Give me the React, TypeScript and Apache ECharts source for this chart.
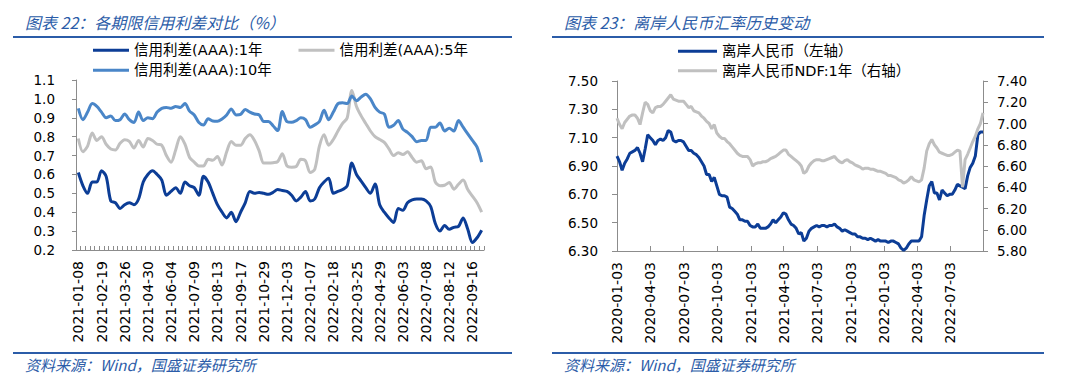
import React, { useEffect, useRef } from "react";
import * as echarts from "echarts";

// ---------- Left chart data (weekly, AAA credit spreads, %) ----------
const spreadStart = "2021-01-08";
const spreadEnd = "2022-09-30";
const spreadSkipped = ["2021-02-12", "2021-10-01", "2022-02-04"];

const spread1Y = [
  0.61, 0.54, 0.5, 0.56, 0.56, 0.62, 0.59, 0.46, 0.45, 0.42,
  0.44, 0.45, 0.44, 0.47, 0.56, 0.6, 0.62, 0.6, 0.57, 0.49,
  0.51, 0.53, 0.5, 0.56, 0.54, 0.53, 0.49, 0.59, 0.56, 0.5,
  0.44, 0.4, 0.37, 0.4, 0.35, 0.4, 0.45, 0.51, 0.5, 0.505,
  0.5, 0.495, 0.505, 0.52, 0.515, 0.51, 0.49, 0.46, 0.48, 0.51,
  0.46, 0.47, 0.53, 0.56, 0.58, 0.5, 0.51, 0.52, 0.54, 0.66,
  0.6, 0.565, 0.53, 0.5, 0.55, 0.44, 0.4, 0.37, 0.345, 0.42,
  0.41, 0.45, 0.465, 0.47, 0.47, 0.46, 0.43, 0.34, 0.3, 0.33,
  0.31, 0.32, 0.325, 0.37, 0.31, 0.24, 0.265, 0.305,
];

const spread5Y = [
  0.79, 0.72, 0.75, 0.82, 0.78, 0.8, 0.76, 0.735, 0.73, 0.765,
  0.784, 0.775, 0.74, 0.78, 0.745, 0.79, 0.78, 0.76, 0.755, 0.7,
  0.665, 0.73, 0.8, 0.76, 0.69, 0.665, 0.645, 0.645, 0.68, 0.675,
  0.695, 0.65, 0.72, 0.775, 0.755, 0.755, 0.79, 0.81, 0.78, 0.725,
  0.66, 0.66, 0.662, 0.668, 0.71, 0.645, 0.638, 0.642, 0.68, 0.672,
  0.61, 0.628, 0.75, 0.81, 0.755, 0.785, 0.83, 0.87, 0.9, 1.045,
  0.96, 0.91, 0.87, 0.83, 0.8, 0.785, 0.77, 0.735, 0.7, 0.715,
  0.705, 0.72, 0.69, 0.665, 0.672, 0.63, 0.64, 0.56, 0.54, 0.543,
  0.557, 0.522, 0.548, 0.57, 0.52, 0.485, 0.45, 0.4,
];

const spread10Y = [
  0.95, 0.89, 0.93, 0.975, 0.96, 0.93, 0.9, 0.91, 0.885, 0.89,
  0.92, 0.89, 0.875, 0.93, 0.885, 0.9, 0.895, 0.93, 0.95, 0.955,
  0.95, 0.96, 0.955, 0.975, 0.935, 0.915, 0.875, 0.862, 0.895, 0.883,
  0.882, 0.894, 0.915, 0.947, 0.915, 0.918, 0.944, 0.93, 0.92, 0.915,
  0.88, 0.88, 0.858, 0.832, 0.933, 0.88, 0.876, 0.885, 0.9, 0.89,
  0.85, 0.862, 0.88, 0.94, 0.89, 0.93, 0.975, 0.98, 0.975, 1.015,
  0.99, 1.01, 1.025, 1.0, 0.955, 0.93, 0.92, 0.85, 0.86, 0.885,
  0.84, 0.823, 0.8, 0.773, 0.78, 0.78, 0.85, 0.85, 0.873, 0.83,
  0.845, 0.83, 0.885, 0.85, 0.815, 0.78, 0.745, 0.665,
];

// ---------- Right chart data (weekly, Fridays) ----------
const fxStart = "2020-01-03";
const fxEnd = "2022-09-30";

const cnh = [
  6.97, 6.93, 6.87, 6.92, 6.95, 6.99, 7.0, 7.01, 7.03, 6.99,
  6.93, 7.02, 7.12, 7.1, 7.08, 7.05, 7.08, 7.09, 7.08, 7.1,
  7.15, 7.14, 7.08, 7.07, 7.08, 7.08, 7.07, 7.04, 7.01, 7.01,
  6.99, 6.98, 6.96, 6.93, 6.9, 6.84, 6.84, 6.79, 6.82, 6.76,
  6.7, 6.69, 6.69, 6.68, 6.61, 6.6, 6.58, 6.56, 6.52, 6.52,
  6.51, 6.51, 6.48, 6.47, 6.47, 6.49, 6.46, 6.46, 6.46, 6.47,
  6.49, 6.52, 6.5, 6.52, 6.54, 6.57, 6.56, 6.52, 6.49, 6.48,
  6.46, 6.42, 6.43, 6.37, 6.39, 6.44, 6.46, 6.47, 6.48, 6.47,
  6.48, 6.48, 6.47, 6.48, 6.48, 6.49, 6.47, 6.46, 6.44, 6.45,
  6.44, 6.43, 6.42, 6.42, 6.4, 6.4, 6.39, 6.39, 6.38, 6.39,
  6.38, 6.37, 6.38, 6.37, 6.37, 6.37, 6.36, 6.37, 6.37, 6.36,
  6.35, 6.32, 6.305, 6.32, 6.35, 6.37, 6.37, 6.37, 6.37, 6.4,
  6.55, 6.66, 6.76, 6.79, 6.71, 6.71, 6.66, 6.73, 6.71, 6.69,
  6.7, 6.7, 6.73, 6.77, 6.76, 6.75, 6.74, 6.83, 6.89, 6.92,
  6.97, 7.12, 7.14, 7.14,
];

const ndf = [
  7.05, 6.99, 6.95, 7.01, 7.04, 7.07, 7.08, 7.08, 7.05, 6.99,
  7.1, 7.2, 7.18, 7.12, 7.1, 7.15, 7.16, 7.16, 7.18, 7.21,
  7.24, 7.27, 7.23, 7.22, 7.21, 7.21, 7.21, 7.18, 7.15, 7.16,
  7.12, 7.11, 7.1, 7.07, 7.05, 7.02, 7.0, 6.95, 6.99, 6.91,
  6.88, 6.86, 6.86, 6.83, 6.81, 6.78, 6.75, 6.72, 6.7, 6.69,
  6.69, 6.69, 6.66, 6.6, 6.62, 6.63, 6.63, 6.64, 6.64, 6.65,
  6.67, 6.68, 6.69, 6.71, 6.73, 6.75, 6.75, 6.71, 6.69, 6.67,
  6.65, 6.63, 6.6, 6.53, 6.55, 6.6, 6.63, 6.65, 6.66, 6.66,
  6.65, 6.65, 6.66, 6.67, 6.68, 6.69, 6.66, 6.64, 6.63, 6.65,
  6.66, 6.64, 6.63, 6.61, 6.6, 6.59, 6.57, 6.58, 6.58, 6.57,
  6.57, 6.56, 6.55, 6.55, 6.54, 6.53, 6.51, 6.51, 6.5, 6.49,
  6.47, 6.46, 6.44, 6.45, 6.47, 6.5, 6.47, 6.46, 6.45, 6.47,
  6.58, 6.74, 6.81, 6.85, 6.8, 6.77, 6.73, 6.72, 6.71, 6.7,
  6.7, 6.71, 6.73, 6.75, 6.74, 6.4, 6.66, 6.71, 6.77, 6.83,
  6.88, 6.95, 7.0, 7.1,
];

const fxTickDates = [
  "2020-01-03", "2020-04-03", "2020-07-03", "2020-10-03",
  "2021-01-03", "2021-04-03", "2021-07-03", "2021-10-03",
  "2022-01-03", "2022-04-03", "2022-07-03",
];

const NAME_1Y = "信用利差(AAA):1年";
const NAME_5Y = "信用利差(AAA):5年";
const NAME_10Y = "信用利差(AAA):10年";
const NAME_CNH = "离岸人民币（左轴）";
const NAME_NDF = "离岸人民币NDF:1年（右轴）";

const TITLE_L = "图表 22：各期限信用利差对比（%）";
const TITLE_R = "图表 23：离岸人民币汇率历史变动";
const SOURCE = "资料来源：Wind，国盛证券研究所";

// ---------- helpers ----------
function pad(n: number) {
  return String(n).padStart(2, "0");
}
function weeklyDates(start: string, end: string, skip: string[]): string[] {
  const [sy, sm, sd] = start.split("-").map(Number);
  const [ey, em, ed] = end.split("-").map(Number);
  let t = Date.UTC(sy, sm - 1, sd);
  const endT = Date.UTC(ey, em - 1, ed);
  const out: string[] = [];
  while (t <= endT) {
    const d = new Date(t);
    const s = `${d.getUTCFullYear()}-${pad(d.getUTCMonth() + 1)}-${pad(d.getUTCDate())}`;
    if (!skip.includes(s)) out.push(s);
    t += 7 * 86400000;
  }
  return out;
}
function dayTs(s: string) {
  const [y, m, d] = s.split("-").map(Number);
  return Date.UTC(y, m - 1, d);
}
function fmtDate(v: number) {
  const d = new Date(v);
  return `${d.getUTCFullYear()}-${pad(d.getUTCMonth() + 1)}-${pad(d.getUTCDate())}`;
}

const spreadDates = weeklyDates(spreadStart, spreadEnd, spreadSkipped);
const fxDates = weeklyDates(fxStart, fxEnd, []);

const DARK = "#0C3D96";
const MID = "#4A86C8";
const GRAY = "#C0C0C0";
const TITLE_BLUE = "#2B5CA8";
const AXIS = "#8C8C8C";
const FONT = '"DejaVu Sans", "Noto Sans CJK SC", sans-serif';
const CJK = '"Noto Sans CJK SC", sans-serif';

export default function App() {
  const ref = useRef<HTMLDivElement>(null);

  useEffect(() => {
    if (!ref.current) return;
    const chart = echarts.init(ref.current, undefined, { renderer: "svg" });
    const fxTicks = fxTickDates.map(dayTs);

    const xLabelBase = { color: "#000", fontSize: 14, fontFamily: FONT };
    const yLabelBase = { color: "#000", fontSize: 13.5, fontFamily: FONT };
    const legendText = { color: "#000", fontSize: 14.5, fontFamily: FONT };

    const option: any = {
      animation: false,
      backgroundColor: "#fff",
      graphic: [
        { type: "text", x: 25, y: 22, style: { text: TITLE_L, fill: TITLE_BLUE, fontSize: 16, fontStyle: "italic", fontFamily: CJK, verticalAlign: "middle" } },
        { type: "line", shape: { x1: 13, y1: 37, x2: 512, y2: 37 }, style: { stroke: TITLE_BLUE, lineWidth: 2 } },
        { type: "line", shape: { x1: 13, y1: 353, x2: 512, y2: 353 }, style: { stroke: TITLE_BLUE, lineWidth: 2 } },
        { type: "text", x: 25, y: 364, style: { text: SOURCE, fill: TITLE_BLUE, fontSize: 15, fontStyle: "italic", fontFamily: CJK, verticalAlign: "middle" } },
        { type: "text", x: 564, y: 22, style: { text: TITLE_R, fill: TITLE_BLUE, fontSize: 16, fontStyle: "italic", fontFamily: CJK, verticalAlign: "middle" } },
        { type: "line", shape: { x1: 552, y1: 37, x2: 1044, y2: 37 }, style: { stroke: TITLE_BLUE, lineWidth: 2 } },
        { type: "line", shape: { x1: 552, y1: 353, x2: 1044, y2: 353 }, style: { stroke: TITLE_BLUE, lineWidth: 2 } },
        { type: "text", x: 564, y: 364, style: { text: SOURCE, fill: TITLE_BLUE, fontSize: 15, fontStyle: "italic", fontFamily: CJK, verticalAlign: "middle" } },
      ],
      legend: [
        { data: [NAME_1Y, NAME_5Y], left: 93, top: 43, padding: 0, itemWidth: 36, itemHeight: 3, icon: "rect", itemGap: 36, textStyle: legendText },
        { data: [NAME_10Y], left: 93, top: 63, padding: 0, itemWidth: 36, itemHeight: 3, icon: "rect", textStyle: legendText },
        { data: [NAME_CNH, NAME_NDF], left: 678, top: 44, padding: 0, orient: "vertical", itemGap: 5, itemWidth: 39, itemHeight: 3, icon: "rect", textStyle: legendText },
      ],
      grid: [
        { left: 76, top: 80, width: 408, height: 170 },
        { left: 617, top: 81, width: 366, height: 170 },
      ],
      xAxis: [
        {
          type: "category",
          gridIndex: 0,
          data: spreadDates,
          boundaryGap: true,
          axisLine: { show: true, lineStyle: { color: AXIS } },
          axisTick: { show: true, interval: 0, inside: true, length: 4, lineStyle: { color: AXIS } },
          axisLabel: { ...xLabelBase, interval: 4, rotate: 90, margin: 11 },
          splitLine: { show: false },
        },
        {
          type: "value",
          gridIndex: 1,
          min: dayTs(fxStart),
          max: dayTs(fxEnd),
          axisLine: { show: true, lineStyle: { color: AXIS } },
          axisTick: { show: true, inside: true, length: 5, customValues: fxTicks, lineStyle: { color: AXIS } },
          axisLabel: { ...xLabelBase, customValues: fxTicks, rotate: 90, margin: 11, formatter: (v: number) => fmtDate(v) },
          splitLine: { show: false },
        },
      ],
      yAxis: [
        {
          type: "value",
          gridIndex: 0,
          min: 0.2,
          max: 1.1,
          interval: 0.1,
          axisLine: { show: true, lineStyle: { color: AXIS } },
          axisTick: { show: true, length: 4, lineStyle: { color: AXIS } },
          axisLabel: { ...yLabelBase, margin: 21, formatter: (v: number) => v.toFixed(1) },
          splitLine: { show: false },
        },
        {
          type: "value",
          gridIndex: 1,
          position: "left",
          min: 6.3,
          max: 7.5,
          interval: 0.2,
          axisLine: { show: true, lineStyle: { color: AXIS } },
          axisTick: { show: true, length: 5, lineStyle: { color: AXIS } },
          axisLabel: { ...yLabelBase, margin: 19, formatter: (v: number) => v.toFixed(2) },
          splitLine: { show: false },
        },
        {
          type: "value",
          gridIndex: 1,
          position: "right",
          min: 5.8,
          max: 7.4,
          interval: 0.2,
          axisLine: { show: true, lineStyle: { color: AXIS } },
          axisTick: { show: true, length: 5, lineStyle: { color: AXIS } },
          axisLabel: { ...yLabelBase, margin: 14, formatter: (v: number) => v.toFixed(2) },
          splitLine: { show: false },
        },
      ],
      series: [
        { name: NAME_1Y, type: "line", xAxisIndex: 0, yAxisIndex: 0, data: spread1Y, symbol: "none", smooth: 0.3, lineStyle: { width: 3, color: DARK }, itemStyle: { color: DARK } },
        { name: NAME_5Y, type: "line", xAxisIndex: 0, yAxisIndex: 0, data: spread5Y, symbol: "none", smooth: 0.3, lineStyle: { width: 3, color: GRAY }, itemStyle: { color: GRAY } },
        { name: NAME_10Y, type: "line", xAxisIndex: 0, yAxisIndex: 0, data: spread10Y, symbol: "none", smooth: 0.3, lineStyle: { width: 3, color: MID }, itemStyle: { color: MID } },
        { name: NAME_CNH, type: "line", xAxisIndex: 1, yAxisIndex: 1, data: fxDates.map((d, i) => [dayTs(d), cnh[i]]), symbol: "none", lineStyle: { width: 3, color: DARK }, itemStyle: { color: DARK } },
        { name: NAME_NDF, type: "line", xAxisIndex: 1, yAxisIndex: 2, data: fxDates.map((d, i) => [dayTs(d), ndf[i]]), symbol: "none", lineStyle: { width: 3, color: GRAY }, itemStyle: { color: GRAY } },
      ],
    };

    chart.setOption(option);
    return () => chart.dispose();
  }, []);

  return (
    <div
      ref={ref}
      style={{ position: "absolute", left: 0, top: 0, width: 1080, height: 387, background: "#fff" }}
    />
  );
}
